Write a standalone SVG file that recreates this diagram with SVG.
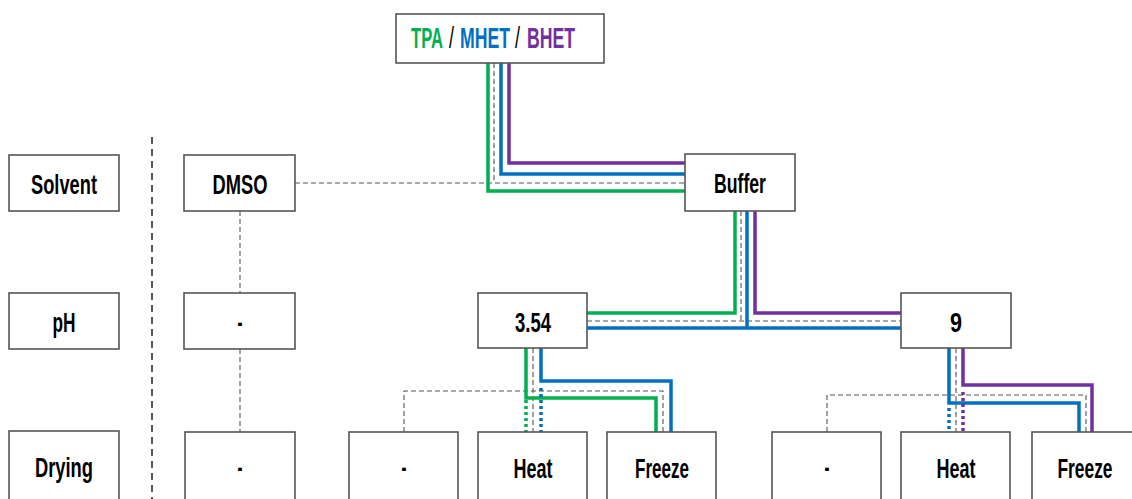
<svg xmlns="http://www.w3.org/2000/svg" width="1132" height="499" viewBox="0 0 1132 499">
<style>
.box{fill:#fff;stroke:#555;stroke-width:1.6}
.t{font-family:"Liberation Sans",Arial,sans-serif;font-weight:bold;font-size:28px;fill:#000;text-anchor:middle}
.tt{font-family:"Liberation Sans",Arial,sans-serif;font-weight:bold;font-size:29px;text-anchor:start}
.sl{font-weight:normal}
.g{fill:none;stroke:#00b050;stroke-width:3.5}
.b{fill:none;stroke:#0070c0;stroke-width:3.5}
.p{fill:none;stroke:#7030a0;stroke-width:3.5}
.d{stroke-dasharray:3 3}
.gr{fill:none;stroke:#555;stroke-width:1.1;stroke-dasharray:5 3}
.sep{fill:none;stroke:#222;stroke-width:1.5;stroke-dasharray:7 5}
</style>
<rect width="1132" height="499" fill="#fff"/>
<g id="connectors">
<path class="sep" d="M152,137 V499"/>
<path class="gr" d="M295,183 H685 M494,63 V183 M240,211 V293 M240,349 V432 M741,211 V321 M587,321 H901 M533,348 V432 M404,432 V391 H663 V432 M956,348 V432 M827,432 V395 H1086 V432"/>
<path class="g" d="M488,63 V191 H685"/>
<path class="b" d="M501,63 V174 H685"/>
<path class="p" d="M509,63 V163 H685"/>
<path class="g" d="M735,211 V313 H587"/>
<path class="p" d="M755,211 V313 H901"/>
<path class="b" d="M747,211 V328 M587,328 H901"/>
<path class="g" d="M526,348 V398 H656 V432"/>
<path class="g d" d="M526,400 V432"/>
<path class="b" d="M541,348 V381 H671 V432"/>
<path class="b d" d="M541,388 V432"/>
<path class="b" d="M949,348 V403 H1079 V432"/>
<path class="b d" d="M949,408 V432"/>
<path class="p" d="M963,348 V385 H1092 V432"/>
<path class="p d" d="M963,392 V432"/>
</g>
<g id="title"><rect class="box" x="396" y="14" width="208" height="49"/>
<text class="tt" y="48"><tspan x="411" fill="#00b050" textLength="32" lengthAdjust="spacingAndGlyphs">TPA</tspan><tspan class="sl" x="449" fill="#000" textLength="5" lengthAdjust="spacingAndGlyphs">/</tspan><tspan x="460" fill="#0070c0" textLength="50" lengthAdjust="spacingAndGlyphs">MHET</tspan><tspan class="sl" x="515" fill="#000" textLength="5" lengthAdjust="spacingAndGlyphs">/</tspan><tspan x="527" fill="#7030a0" textLength="48" lengthAdjust="spacingAndGlyphs">BHET</tspan></text>
</g>
<g id="solvent"><rect class="box" x="9" y="155" width="110" height="56"/><text class="t" x="64" y="194" textLength="66" lengthAdjust="spacingAndGlyphs">Solvent</text></g>
<g id="ph"><rect class="box" x="9" y="293" width="110" height="56"/><text class="t" x="64" y="332" textLength="23" lengthAdjust="spacingAndGlyphs">pH</text></g>
<g id="drying"><rect class="box" x="9" y="431" width="110" height="80"/><text class="t" x="64" y="477" textLength="58" lengthAdjust="spacingAndGlyphs">Drying</text></g>
<g id="dmso"><rect class="box" x="184" y="155" width="111" height="56"/><text class="t" x="240" y="194" textLength="55" lengthAdjust="spacingAndGlyphs">DMSO</text></g>
<g id="ph-none"><rect class="box" x="184" y="293" width="111" height="56"/><text class="t" x="240" y="332" textLength="5" lengthAdjust="spacingAndGlyphs">-</text></g>
<g id="dry-none-dmso"><rect class="box" x="185" y="432" width="110" height="80"/><text class="t" x="240" y="477" textLength="5" lengthAdjust="spacingAndGlyphs">-</text></g>
<g id="buffer"><rect class="box" x="685" y="154" width="110" height="57"/><text class="t" x="740" y="193" textLength="52" lengthAdjust="spacingAndGlyphs">Buffer</text></g>
<g id="ph354"><rect class="box" x="478" y="293" width="109" height="55"/><text class="t" x="533" y="332" textLength="36" lengthAdjust="spacingAndGlyphs">3.54</text></g>
<g id="ph9"><rect class="box" x="901" y="293" width="110" height="55"/><text class="t" x="956" y="332" textLength="12" lengthAdjust="spacingAndGlyphs">9</text></g>
<g id="dry-none-a"><rect class="box" x="349" y="432" width="109" height="80"/><text class="t" x="404" y="477" textLength="5" lengthAdjust="spacingAndGlyphs">-</text></g>
<g id="heat-a"><rect class="box" x="478" y="432" width="109" height="80"/><text class="t" x="533" y="478" textLength="39" lengthAdjust="spacingAndGlyphs">Heat</text></g>
<g id="freeze-a"><rect class="box" x="607" y="432" width="109" height="80"/><text class="t" x="662" y="478" textLength="54" lengthAdjust="spacingAndGlyphs">Freeze</text></g>
<g id="dry-none-b"><rect class="box" x="772" y="432" width="109" height="80"/><text class="t" x="827" y="477" textLength="5" lengthAdjust="spacingAndGlyphs">-</text></g>
<g id="heat-b"><rect class="box" x="901" y="432" width="109" height="80"/><text class="t" x="956" y="478" textLength="39" lengthAdjust="spacingAndGlyphs">Heat</text></g>
<g id="freeze-b"><rect class="box" x="1032" y="432" width="110" height="80"/><text class="t" x="1085" y="478" textLength="55" lengthAdjust="spacingAndGlyphs">Freeze</text></g>
</svg>
